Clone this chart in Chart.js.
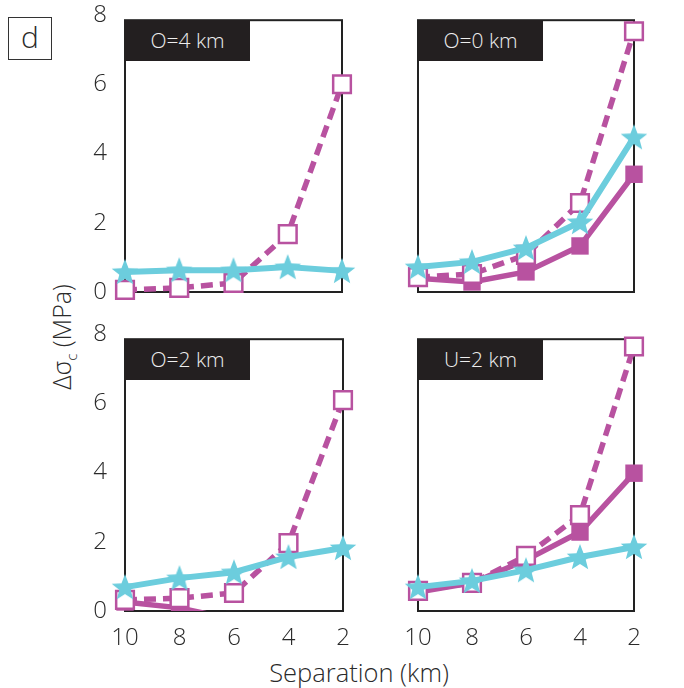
<!DOCTYPE html>
<html>
<head>
<meta charset="utf-8">
<script src="https://cdn.jsdelivr.net/npm/chart.js@4.4.0/dist/chart.umd.min.js"></script>
<style>
  body { margin: 0; background: #fff; width: 684px; height: 688px; position: relative; overflow: hidden;
         font-family: "Open Sans", Roboto, sans-serif; font-weight: 300; color: #2a2a2a; }
  .panel { position: absolute; }
  .tag { position: absolute; width: 125px; height: 41px; background: #231f20; color: #eee;
         font-size: 21px; line-height: 41px; text-align: center; }
  #letter { position: absolute; left: 8px; top: 17px; width: 42px; height: 41px; border: 1.5px solid #333;
            font-size: 30px; line-height: 38px; text-align: center; }
  #ylabel { position: absolute; left: 62px; top: 337px; transform: translate(-50%, -50%) rotate(-90deg);
            font-size: 25px; white-space: nowrap; }
  #ylabel sub { font-size: 15px; }
  #xlabel { position: absolute; left: 359px; top: 672px; transform: translate(-50%, -50%);
            font-size: 25.5px; white-space: nowrap; }
</style>
</head>
<body>
<div id="letter">d</div>
<div id="ylabel">Δσ<sub>c</sub> (MPa)</div>
<div id="xlabel">Separation (km)</div>

<script>
// Data
const separation = [10, 8, 6, 4, 2];
const yTicks = [0, 2, 4, 6, 8];
const boxTop = 7.85;   // upper y limit of the drawn box
const panelTitles = ['O=4 km', 'O=0 km', 'O=2 km', 'U=2 km'];

// O=4 km
const o4Star = [0.58, 0.63, 0.63, 0.72, 0.61];
const o4Open = [0.06, 0.12, 0.26, 1.67, 6.00];
// O=0 km
const o0Star = [0.72, 0.87, 1.27, 2.02, 4.47];
const o0Filled = [0.40, 0.29, 0.58, 1.33, 3.40];
const o0Open = [0.43, 0.52, 1.07, 2.57, 7.53];
// O=2 km
const o2Star = [0.69, 0.95, 1.12, 1.56, 1.82];
const o2Filled = [0.26, 0.09, -0.25, null, null];
const o2Open = [0.32, 0.37, 0.52, 1.96, 6.09];
// U=2 km
const u2Star = [0.69, 0.87, 1.18, 1.56, 1.85];
const u2Filled = [0.55, 0.81, 1.47, 2.28, 3.98];
const u2Open = [0.58, 0.81, 1.59, 2.77, 7.64];

const MAGENTA = 'rgb(184, 82, 160)';
const CYAN = 'rgb(108, 205, 221)';
const FONT = { family: '"Open Sans", Roboto, sans-serif', size: 24, weight: 300 };

// Five-pointed star marker
function makeStar(rOut, rIn, color) {
    const c = document.createElement('canvas');
    c.width = c.height = Math.ceil(rOut * 2 + 2);
    const ctx = c.getContext('2d');
    const cx = c.width / 2, cy = c.height / 2 + 1;
    ctx.beginPath();
    for (let i = 0; i < 10; i++) {
        const r = i % 2 === 0 ? rOut : rIn;
        const a = -Math.PI / 2 + i * Math.PI / 5;
        ctx.lineTo(cx + r * Math.cos(a), cy + r * Math.sin(a));
    }
    ctx.closePath();
    ctx.fillStyle = color;
    ctx.fill();
    return c;
}
const starImg = makeStar(14, 6, CYAN);

function pts(vals) {
    return separation.map((s, i) => ({ x: s, y: vals[i] }));
}

function starSet(vals) {
    return { data: pts(vals), borderColor: CYAN, borderWidth: 6, pointStyle: starImg,
             pointRadius: 13, tension: 0, clip: false };
}
function openSet(vals) {
    return { data: pts(vals), borderColor: MAGENTA, borderWidth: 5.5, borderDash: [12, 7],
             pointStyle: 'rect', pointRadius: 12.5, pointBackgroundColor: '#fff',
             pointBorderColor: MAGENTA, pointBorderWidth: 2.5, tension: 0, clip: false };
}
function filledSet(vals, clip) {
    return { data: pts(vals), borderColor: MAGENTA, borderWidth: 5.5, pointStyle: 'rect',
             pointRadius: 12.3, pointBackgroundColor: MAGENTA, pointBorderColor: MAGENTA,
             pointBorderWidth: 0, tension: 0, clip: clip === undefined ? false : clip };
}

// Box around each plot area (MATLAB "box on")
const boxPlugin = {
    id: 'box',
    beforeDatasetsDraw(chart) {
        const { ctx, chartArea: a } = chart;
        const top = chart.scales.y.getPixelForValue(boxTop);
        ctx.save();
        ctx.strokeStyle = '#222';
        ctx.lineWidth = 2;
        ctx.strokeRect(a.left, top, a.right - a.left, a.bottom - top);
        ctx.restore();
    }
};

// room around the plot area inside each canvas
const AXW = 60, PADT = 40, PADR = 25, XAXH = 50;

function makePanel(idx, plot, datasets, showX, showY) {
    const div = document.createElement('div');
    div.className = 'panel';
    const w = plot.w + AXW + PADR, h = plot.h + PADT + XAXH;
    div.style.left = (plot.l - AXW) + 'px';
    div.style.top = (plot.t - PADT) + 'px';
    div.style.width = w + 'px';
    div.style.height = h + 'px';
    const cv = document.createElement('canvas');
    div.appendChild(cv);
    document.body.appendChild(div);

    const tag = document.createElement('div');
    tag.className = 'tag';
    tag.style.left = plot.l + 'px';
    tag.style.top = (plot.t + plot.h * (1 - boxTop / yTicks[yTicks.length - 1])) + 'px';
    tag.textContent = panelTitles[idx];
    document.body.appendChild(tag);

    new Chart(cv, {
        type: 'line',
        data: { datasets: datasets },
        options: {
            responsive: true,
            maintainAspectRatio: false,
            animation: false,
            events: [],
            layout: { padding: { top: PADT, right: PADR, left: 0, bottom: 0 } },
            plugins: { legend: { display: false }, tooltip: { enabled: false } },
            scales: {
                x: {
                    type: 'linear', reverse: true,
                    min: separation[separation.length - 1], max: separation[0],
                    grid: { display: false, drawTicks: false },
                    border: { display: false },
                    ticks: { display: showX, stepSize: 2, padding: 13, color: '#2a2a2a', font: FONT },
                    afterFit(scale) { scale.height = XAXH; }
                },
                y: {
                    min: yTicks[0], max: yTicks[yTicks.length - 1],
                    grid: { display: false, drawTicks: false },
                    border: { display: false },
                    ticks: { display: showY, stepSize: yTicks[1] - yTicks[0], padding: 18,
                             color: '#2a2a2a', font: FONT },
                    afterFit(scale) { scale.width = AXW; }
                }
            }
        },
        plugins: [boxPlugin]
    });
}

document.addEventListener('DOMContentLoaded', function() {
    makePanel(0, { l: 125, t: 15, w: 217, h: 277 },
        [starSet(o4Star), openSet(o4Open)], false, true);
    makePanel(1, { l: 418, t: 15, w: 216, h: 277 },
        [starSet(o0Star), openSet(o0Open), filledSet(o0Filled)], false, false);
    makePanel(2, { l: 125, t: 334, w: 218, h: 277 },
        [starSet(o2Star), openSet(o2Open),
         filledSet(o2Filled, { left: 30, top: 30, right: 30, bottom: 0 })], true, true);
    makePanel(3, { l: 418, t: 334, w: 216, h: 277 },
        [starSet(u2Star), openSet(u2Open), filledSet(u2Filled)], true, false);
});
</script>
</body>
</html>
